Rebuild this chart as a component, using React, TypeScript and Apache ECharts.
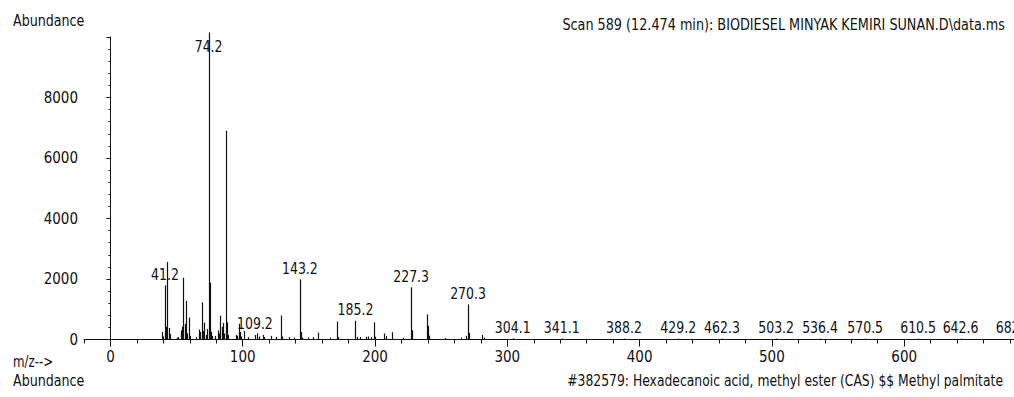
import React, { useEffect, useRef } from "react";
import * as echarts from "echarts";

// ---- data ----
const peakMz = [
  39, 40, 41.2, 42, 43, 44, 45,
  50, 51, 53, 54, 55, 56, 57, 58, 59, 60,
  65, 67, 68, 69, 70, 71, 72, 73, 74.2, 75, 76, 77, 79, 81, 82, 83, 84, 85, 86, 87, 88, 89,
  95, 96, 97, 98, 99, 101, 104, 109.2, 111, 112, 115, 116, 121, 125, 129, 130, 135, 139,
  143.2, 144, 145, 149, 153, 157, 166, 171, 172,
  185.2, 186, 189, 193, 195, 197, 199, 200, 207, 208, 213, 221,
  227.3, 228, 239, 240, 241, 253, 265, 269, 270.3, 271, 281, 282,
  304.1, 341.1, 388.2, 429.2, 462.3, 503.2, 536.4, 570.5, 610.5, 642.6, 682.7,
];
const peakAbundance = [
  250, 100, 1790, 420, 2560, 380, 180,
  60, 80, 300, 420, 2040, 520, 1280, 200, 730, 120,
  80, 330, 250, 1230, 280, 560, 150, 350, 10150, 1880, 250, 120, 120, 300, 200, 790, 420, 550, 200, 6900, 570, 150,
  150, 120, 520, 250, 100, 280, 80, 150, 200, 100, 150, 80, 120, 90, 790, 100, 80, 60,
  1990, 250, 60, 70, 80, 230, 60, 590, 80,
  620, 90, 80, 90, 100, 80, 570, 90, 200, 120, 240, 60,
  1725, 310, 830, 450, 130, 50, 60, 120, 1160, 220, 150, 60,
  40, 35, 30, 30, 30, 30, 30, 30, 30, 30, 30,
];
const labelMz = [
  41.2, 74.2, 109.2, 143.2, 185.2, 227.3, 270.3, 304.1, 341.1, 388.2,
  429.2, 462.3, 503.2, 536.4, 570.5, 610.5, 642.6, 682.7,
];
const xMajorTicks = [0, 100, 200, 300, 400, 500, 600];
const xMin = -20;
const xMax = 683;
const yMax = 10000;
const yInterval = 2000;

const titleText = "Scan 589 (12.474 min): BIODIESEL MINYAK KEMIRI SUNAN.D\\data.ms";
const footerText = "#382579: Hexadecanoic acid, methyl ester (CAS) $$ Methyl palmitate";
const yAxisTitle = "Abundance";
const xAxisTitle = "m/z-->";

const FONT_FAMILY = "'DejaVu Sans Condensed', 'DejaVu Sans', sans-serif";
const FONT = `16px ${FONT_FAMILY}`;
const INK = "#111";
const NARROW = 0.87;

export default function App() {
  const ref = useRef<HTMLDivElement>(null);

  useEffect(() => {
    const chart = echarts.init(ref.current as HTMLDivElement, null, { renderer: "svg" });
    const peaks = peakMz.map((m, i) => [m, peakAbundance[i]]);
    const labels = labelMz.map((m) => [m, peakAbundance[peakMz.indexOf(m)]]);
    const grid = { left: 84, right: 0, top: 37, bottom: 57.5 };

    const txt = (text: string, x: number, y: number, align: string, sx: number) => ({
      type: "text",
      x,
      y,
      scaleX: sx,
      style: {
        text,
        font: FONT,
        fill: INK,
        align,
        verticalAlign: "middle",
        textAlign: align,
        textVerticalAlign: "middle",
      },
    });

    chart.setOption({
      animation: false,
      backgroundColor: "#fff",
      textStyle: { fontFamily: FONT_FAMILY },
      grid: [grid, { ...grid }],
      xAxis: [
        {
          type: "value",
          gridIndex: 0,
          min: xMin,
          max: xMax,
          splitLine: { show: false },
          axisLine: { show: true, onZero: false, lineStyle: { color: INK, width: 1 } },
          axisTick: { show: true, length: 7, customValues: xMajorTicks, lineStyle: { color: INK } },
          axisLabel: {
            show: true,
            customValues: xMajorTicks,
            margin: 10,
            color: INK,
            fontSize: 15,
            fontFamily: FONT_FAMILY,
          },
        },
        {
          type: "value",
          gridIndex: 1,
          min: xMin,
          max: xMax,
          interval: 20,
          position: "bottom",
          splitLine: { show: false },
          axisLine: { show: false, onZero: false },
          axisTick: { show: true, length: 4, lineStyle: { color: INK } },
          axisLabel: { show: false },
        },
      ],
      yAxis: [
        {
          type: "value",
          gridIndex: 0,
          min: 0,
          max: yMax,
          interval: yInterval,
          splitLine: { show: false },
          axisLine: { show: true, lineStyle: { color: INK, width: 1 } },
          axisTick: { show: true, length: 4, lineStyle: { color: INK } },
          minorTick: { show: true, splitNumber: 5, length: 2, lineStyle: { color: INK } },
          axisLabel: {
            showMaxLabel: false,
            margin: 6,
            color: INK,
            fontSize: 15,
            fontFamily: FONT_FAMILY,
            formatter: (v: number) => String(v),
          },
        },
        { type: "value", gridIndex: 1, min: 0, max: yMax, show: false },
      ],
      series: [
        {
          type: "custom",
          xAxisIndex: 0,
          yAxisIndex: 0,
          clip: false,
          data: peaks,
          renderItem: (params: any, api: any) => {
            const p0 = api.coord([api.value(0), 0]);
            const p1 = api.coord([api.value(0), api.value(1)]);
            const x = Math.round(p0[0]) + 0.5;
            return {
              type: "line",
              shape: { x1: x, y1: p0[1], x2: x, y2: p1[1] },
              style: { stroke: "#111", lineWidth: 1.2 },
            };
          },
        },
        {
          type: "custom",
          xAxisIndex: 0,
          yAxisIndex: 0,
          clip: false,
          data: labels,
          renderItem: (params: any, api: any) => {
            const p = api.coord([api.value(0), api.value(1)]);
            const top = params.coordSys.y;
            const y = Math.max(p[1] - 3, top + 18);
            return {
              type: "text",
              x: p[0],
              y: y,
              scaleX: NARROW,
              style: {
                text: labelMz[params.dataIndex].toFixed(1),
                font: FONT,
                fill: INK,
                align: "center",
                verticalAlign: "bottom",
                textAlign: "center",
                textVerticalAlign: "bottom",
              },
            };
          },
        },
      ],
      graphic: [
        txt(yAxisTitle, 13, 21, "left", 0.88),
        txt(titleText, 1005, 25, "right", 0.89),
        txt(xAxisTitle, 13, 361, "left", 0.82),
        txt(yAxisTitle, 13, 381, "left", 0.88),
        txt(footerText, 1003, 381, "right", 0.86),
      ],
    });

    return () => chart.dispose();
  }, []);

  return (
    <div
      ref={ref}
      style={{ position: "fixed", left: 0, top: 0, width: 1014, height: 397, background: "#fff" }}
    />
  );
}
